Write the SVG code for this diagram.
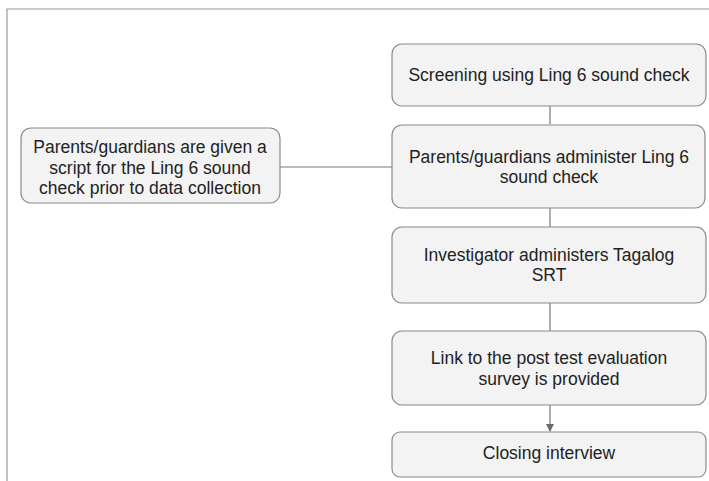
<svg xmlns="http://www.w3.org/2000/svg" width="709" height="481" viewBox="0 0 709 481">
<style>
.box{fill:#f3f3f3;stroke:#8a8a8a;stroke-width:1.2}
.t{font-family:"Liberation Sans",Arial,sans-serif;font-size:17.5px;fill:#222;text-anchor:middle}
.c{stroke:#7a7a7a;stroke-width:1.2;fill:none}
</style>
<defs>
<marker id="ah" markerWidth="8" markerHeight="8" refX="7" refY="4" orient="auto" markerUnits="userSpaceOnUse">
<path d="M0,0 L8,4 L0,8 Z" fill="#6a6a6a"/>
</marker>
</defs>
<rect width="709" height="481" fill="#fff"/>
<path d="M7,481 V9 H709" fill="none" stroke="#9a9a9a" stroke-width="1.2"/>
<g id="connectors">
<line class="c" x1="550" y1="106" x2="550" y2="124"/>
<line class="c" x1="550" y1="208" x2="550" y2="227"/>
<line class="c" x1="550" y1="303" x2="550" y2="331"/>
<line class="c" x1="550" y1="405" x2="550" y2="431" marker-end="url(#ah)"/>
<line class="c" x1="280" y1="167" x2="392" y2="167"/>
</g>
<g id="n1">
<rect class="box" x="392" y="44" width="314" height="62" rx="10"/>
<text class="t" x="549" y="81">Screening using Ling 6 sound check</text>
</g>
<g id="n2">
<rect class="box" x="392" y="125" width="313" height="83" rx="10"/>
<text class="t" x="549" y="163">Parents/guardians administer Ling 6</text>
<text class="t" x="549" y="183">sound check</text>
</g>
<g id="n3">
<rect class="box" x="392" y="227" width="314" height="76" rx="10"/>
<text class="t" x="549" y="261">Investigator administers Tagalog</text>
<text class="t" x="549" y="281">SRT</text>
</g>
<g id="n4">
<rect class="box" x="392" y="331" width="314" height="74" rx="10"/>
<text class="t" x="549" y="364">Link to the post test evaluation</text>
<text class="t" x="549" y="385">survey is provided</text>
</g>
<g id="n5">
<rect class="box" x="392" y="432" width="314" height="45" rx="8"/>
<text class="t" x="549" y="459">Closing interview</text>
</g>
<g id="n6">
<rect class="box" x="21" y="128" width="259" height="75" rx="10"/>
<text class="t" x="150" y="153">Parents/guardians are given a</text>
<text class="t" x="150" y="174">script for the Ling 6 sound</text>
<text class="t" x="150" y="194">check prior to data collection</text>
</g>
</svg>
